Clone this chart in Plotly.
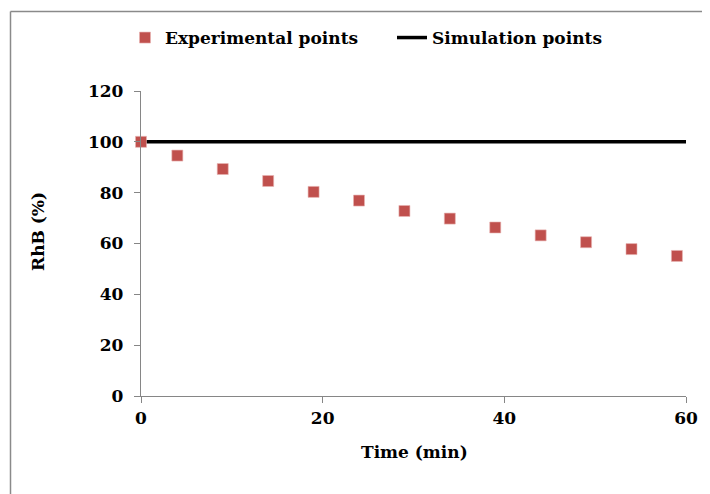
import plotly.graph_objects as go

exp_time = [0, 4, 9, 14, 19, 24, 29, 34, 39, 44, 49, 54, 59]
exp_rhb = [100, 94.6, 89.3, 84.6, 80.3, 76.9, 72.8, 69.8, 66.3, 63.2, 60.5, 57.8, 55.1]
sim_time = [0, 60]
sim_rhb = [100, 100]

x_ticks = [0, 20, 40, 60]
y_ticks = [0, 20, 40, 60, 80, 100, 120]

FONT = "DejaVu Serif"
AX = "#868686"

fig = go.Figure()
fig.add_trace(go.Scatter(
    x=sim_time, y=sim_rhb, mode="lines", name="Simulation points",
    line=dict(color="black", width=3.5), legend="legend2", cliponaxis=False))
fig.add_trace(go.Scatter(
    x=exp_time, y=exp_rhb, mode="markers", name="Experimental points",
    marker=dict(symbol="square", size=11, color="#C0504D",
                line=dict(width=0.6, color="#E8B4B2")), legend="legend",
    cliponaxis=False))

# page body has an 8px margin; figure is sized to fill the 710x494 window
OFF = 8
W, H = 710 - OFF, 494 - OFF
L, R, T, B = 141 - OFF, 24, 91 - OFF, 98
pw, ph = W - L - R, H - T - B

def px(x):  # x in window pixels
    return (x - OFF - L) / pw

def py(y):  # y in window pixels
    return (H - B - (y - OFF)) / ph

TF = dict(family=FONT, size=17, color="black", weight="bold")

fig.update_layout(
    width=W, height=H,
    margin=dict(l=L, r=R, t=T, b=B),
    paper_bgcolor="white", plot_bgcolor="white",
    font=dict(family=FONT, size=17, color="black"),
    showlegend=True,
    legend=dict(orientation="h", x=px(125), y=py(38), xanchor="left", yanchor="middle",
                font=TF, bgcolor="rgba(0,0,0,0)", itemwidth=30),
    legend2=dict(orientation="h", x=px(392), y=py(38), xanchor="left", yanchor="middle",
                 font=TF, bgcolor="rgba(0,0,0,0)", itemwidth=30),
    xaxis=dict(range=[0, 60], tickvals=x_ticks, ticktext=[str(v) for v in x_ticks],
               showgrid=False, zeroline=False, showline=True, linecolor=AX, linewidth=1.3,
               ticks="outside", ticklen=6, tickcolor=AX, tickwidth=1.3,
               tickfont=TF, fixedrange=True),
    yaxis=dict(range=[0, 120], tickvals=y_ticks, ticktext=[str(v) for v in y_ticks],
               showgrid=False, zeroline=False, showline=True, linecolor=AX, linewidth=1.3,
               ticks="outside", ticklen=6, tickcolor=AX, tickwidth=1.3,
               ticklabelstandoff=7, tickfont=TF, fixedrange=True),
    annotations=[
        dict(text="Time (min)", xref="paper", yref="paper", x=px(414), y=py(452),
             showarrow=False, xanchor="center", yanchor="middle", font=TF),
        dict(text="RhB (%)", xref="paper", yref="paper", x=px(38), y=py(232),
             showarrow=False, xanchor="center", yanchor="middle", textangle=-90, font=TF),
    ],
    shapes=[
        dict(type="line", xref="paper", yref="paper", x0=px(10.5), x1=px(720),
             y0=py(11.5), y1=py(11.5), line=dict(color="#8a8a8a", width=1.5)),
        dict(type="line", xref="paper", yref="paper", x0=px(10.5), x1=px(10.5),
             y0=py(11.5), y1=py(500), line=dict(color="#8a8a8a", width=1.5)),
    ],
)

fig.write_html("out.html")
